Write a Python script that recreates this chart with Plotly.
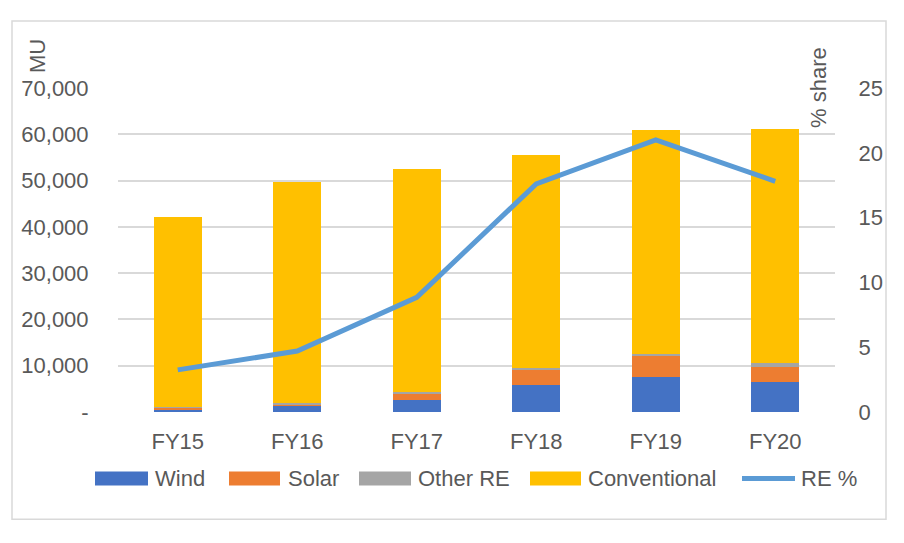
import plotly.graph_objects as go

years = ["FY15", "FY16", "FY17", "FY18", "FY19", "FY20"]
wind = [600, 1450, 2500, 5750, 7500, 6400]
solar = [330, 150, 1300, 3250, 4550, 3250]
other_re = [250, 300, 450, 450, 500, 850]
conventional = [40870, 47700, 48150, 46150, 48450, 50600]
re_pct = [3.25, 4.7, 8.85, 17.6, 21.0, 17.8]

left_ticks = [0, 10000, 20000, 30000, 40000, 50000, 60000, 70000]
left_text = ["-", "10,000", "20,000", "30,000", "40,000", "50,000", "60,000", "70,000"]
right_ticks = [0, 5, 10, 15, 20, 25]

FONT = "Liberation Sans, Arial, sans-serif"
TXT = "#595959"
FS = 22

colors = {"Wind": "#4472c4", "Solar": "#ed7d31", "Other RE": "#a5a5a5", "Conventional": "#ffc000"}
line_color = "#5b9bd5"

fig = go.Figure()
for name, vals in [("Wind", wind), ("Solar", solar), ("Other RE", other_re), ("Conventional", conventional)]:
    fig.add_trace(go.Bar(x=years, y=vals, name=name, marker=dict(color=colors[name], line=dict(width=0)),
                         width=0.4, showlegend=False))

fig.add_trace(go.Scatter(x=years, y=re_pct, name="RE %", yaxis="y2", mode="lines",
                         line=dict(color=line_color, width=5), showlegend=False))

W, H = 904, 543
L, R, T, B = 118, 69, 88, 130.5
pw, ph = W - L - R, H - T - B

def px(x):
    return (x - L) / pw

def py(y):
    return (H - B - y) / ph

shapes = [dict(type="rect", xref="paper", yref="paper",
               x0=px(12), x1=px(886), y0=py(520), y1=py(21),
               line=dict(color="#d9d9d9", width=1.5), fillcolor="rgba(0,0,0,0)", layer="below")]
annotations = [
    dict(text="MU", xref="paper", yref="paper", x=px(37), y=py(56), textangle=-90,
         showarrow=False, xanchor="center", yanchor="middle", font=dict(size=FS, color=TXT)),
    dict(text="% share", xref="paper", yref="paper", x=px(818), y=py(88), textangle=-90,
         showarrow=False, xanchor="center", yanchor="middle", font=dict(size=FS, color=TXT)),
]

# custom legend (Excel-style wide swatches)
legend_items = [("Wind", 95, 148, 153), ("Solar", 229, 280, 286), ("Other RE", 359, 411, 416),
                ("Conventional", 530, 581, 586)]
ly = 479
for name, sx0, sx1, tx in legend_items:
    shapes.append(dict(type="rect", xref="paper", yref="paper", x0=px(sx0), x1=px(sx1),
                       y0=py(ly + 7), y1=py(ly - 7), fillcolor=colors[name], line=dict(width=0)))
    annotations.append(dict(text=name, xref="paper", yref="paper", x=px(tx), y=py(ly),
                            xanchor="left", yanchor="middle", showarrow=False,
                            font=dict(size=FS, color=TXT)))
shapes.append(dict(type="line", xref="paper", yref="paper", x0=px(742), x1=px(795),
                   y0=py(ly), y1=py(ly), line=dict(color=line_color, width=5)))
annotations.append(dict(text="RE %", xref="paper", yref="paper", x=px(799), y=py(ly),
                        xanchor="left", yanchor="middle", showarrow=False,
                        font=dict(size=FS, color=TXT)))

fig.update_layout(
    width=W, height=H,
    margin=dict(l=L, r=R, t=T, b=B),
    barmode="stack",
    plot_bgcolor="white", paper_bgcolor="white",
    font=dict(family=FONT, size=FS, color=TXT),
    showlegend=False,
    xaxis=dict(showgrid=False, showline=False, ticks="outside", ticklen=10,
               tickcolor="rgba(0,0,0,0)", tickfont=dict(size=FS, color=TXT)),
    yaxis=dict(range=[0, 70000], tickvals=left_ticks, ticktext=left_text,
               showgrid=True, gridcolor="#d9d9d9", gridwidth=1.5, zeroline=False,
               showline=False, ticks="outside", ticklen=24, tickcolor="rgba(0,0,0,0)",
               tickfont=dict(size=FS, color=TXT)),
    yaxis2=dict(range=[0, 25], tickvals=right_ticks, overlaying="y", side="right",
                showgrid=False, zeroline=False, showline=False, ticks="outside", ticklen=18,
                tickcolor="rgba(0,0,0,0)", tickfont=dict(size=FS, color=TXT)),
    shapes=shapes,
    annotations=annotations,
)

fig.write_html("out.html")
